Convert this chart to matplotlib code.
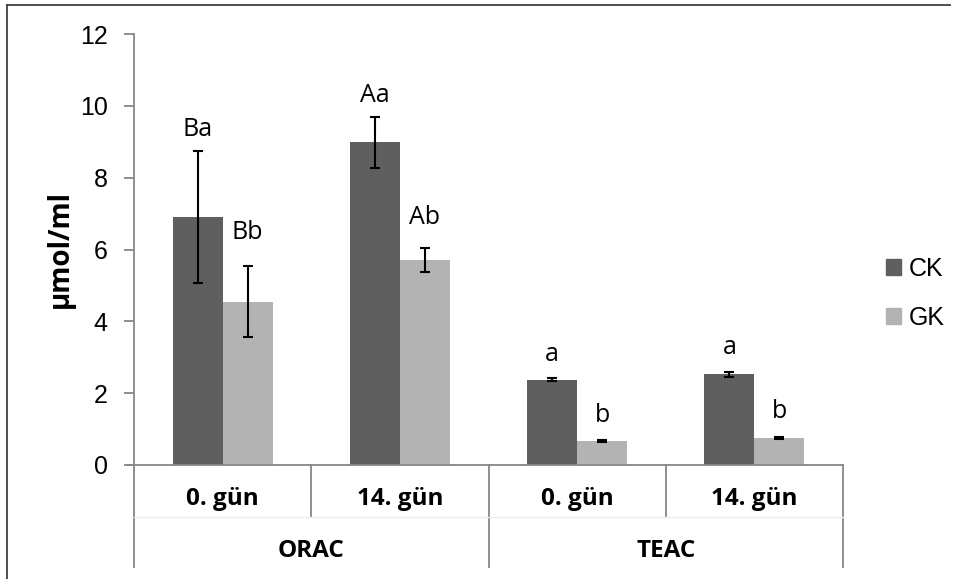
import numpy as np
import matplotlib.pyplot as plt
from matplotlib.lines import Line2D
from matplotlib.patches import Patch

# data
methods = ['ORAC', 'TEAC']
days = ['0. gün', '14. gün', '0. gün', '14. gün']
ck_vals = [6.90, 8.98, 2.37, 2.52]
ck_err = [1.84, 0.72, 0.04, 0.08]
gk_vals = [4.54, 5.71, 0.66, 0.75]
gk_err = [0.99, 0.33, 0.03, 0.04]
ck_letters = ['Ba', 'Aa', 'a', 'a']
gk_letters = ['Bb', 'Ab', 'b', 'b']
ck_label_y = [9.33, 10.3, 3.09, 3.26]
gk_label_y = [6.46, 6.88, 1.39, 1.48]

ck_color = '#5f5f5f'
gk_color = '#b3b3b3'
axis_gray = '#878787'
num_font = 'Liberation Sans'
lbl_font = 'Open Sans'

fig = plt.figure(figsize=(9.58, 5.79), dpi=100)
ax = fig.add_axes([134/958, 1-465/579, (843-134)/958, (465-34)/579])

x = np.arange(len(days))
w = 0.2825
ax.bar(x - w/2, ck_vals, w, color=ck_color, zorder=2)
ax.bar(x + w/2, gk_vals, w, color=gk_color, zorder=2)
ax.errorbar(x - w/2, ck_vals, yerr=ck_err, fmt='none', ecolor='black',
            elinewidth=1.5, capsize=3.5, capthick=1.5, zorder=3)
ax.errorbar(x + w/2, gk_vals, yerr=gk_err, fmt='none', ecolor='black',
            elinewidth=1.5, capsize=3.5, capthick=1.5, zorder=3)

for i in range(len(days)):
    ax.text(x[i] - w/2, ck_label_y[i], ck_letters[i], ha='center', va='center',
            fontsize=18, family=lbl_font)
    ax.text(x[i] + w/2, gk_label_y[i], gk_letters[i], ha='center', va='center',
            fontsize=18, family=lbl_font)

ax.set_xlim(-0.5, len(days) - 0.5)
ax.set_ylim(0, 12)
ax.set_yticks(np.arange(0, 13, 2))
ax.set_xticks([])
for s in ['top', 'right']:
    ax.spines[s].set_visible(False)
ax.spines['left'].set_color(axis_gray)
ax.spines['bottom'].set_color(axis_gray)
ax.spines['left'].set_linewidth(1.3)
ax.spines['bottom'].set_linewidth(1.3)
ax.tick_params(axis='y', direction='out', length=7, width=1.3, color=axis_gray,
               labelsize=18, pad=12)
for t in ax.get_yticklabels():
    t.set_family(num_font)
# zero line sticks out to the left like the tick marks
ax.plot([-0.5 - 7/177, -0.5], [0, 0], color=axis_gray, lw=1.3, clip_on=False)

ax.set_ylabel('µmol/ml', fontsize=20, fontweight='bold', family=lbl_font)
ax.yaxis.set_label_coords(-(134-60)/709, 0.5)
ax.yaxis.label.set_va('center')

# two level category axis
tr = ax.get_xaxis_transform()
ppu = 431  # axes height in pixels
y_mid = -(517-465)/ppu
y_bot = -(567-465)/ppu
for i in range(len(days)):
    ax.text(x[i], -(499-465)/ppu, days[i], transform=tr, ha='center', va='center',
            fontsize=17.5, fontweight='bold', family=lbl_font)
for b in [0.5, 2.5]:
    ax.plot([b, b], [0, y_mid], transform=tr, color=axis_gray, lw=1.3, clip_on=False)
for b in [-0.5, 1.5, 3.5]:
    ax.plot([b, b], [0, y_bot], transform=tr, color=axis_gray, lw=1.3, clip_on=False)
ax.plot([-0.5, 3.5], [y_mid, y_mid], transform=tr, color='#ececec', lw=1, clip_on=False)
for j, m in enumerate(methods):
    ax.text(2*j + 0.5, -(551-465)/ppu, m, transform=tr, ha='center', va='center',
            fontsize=17.5, fontweight='bold', family=lbl_font)

handles = [Patch(color=ck_color, label='CK'), Patch(color=gk_color, label='GK')]
fig.legend(handles=handles, loc='center left', bbox_to_anchor=(886/958, 1-293.5/579),
           frameon=False, handlelength=0.6, handleheight=0.6, borderpad=0,
           borderaxespad=0, handletextpad=0.3, labelspacing=1.0,
           prop={'family': num_font, 'size': 18})

# chart frame (top and left edge)
fig.add_artist(Line2D([7/958, 950/958], [1-5/579, 1-5/579], color='#404040', lw=1.3))
fig.add_artist(Line2D([7/958, 7/958], [0, 1-5/579], color='#404040', lw=1.3))

fig.savefig('out.png', dpi=100)
